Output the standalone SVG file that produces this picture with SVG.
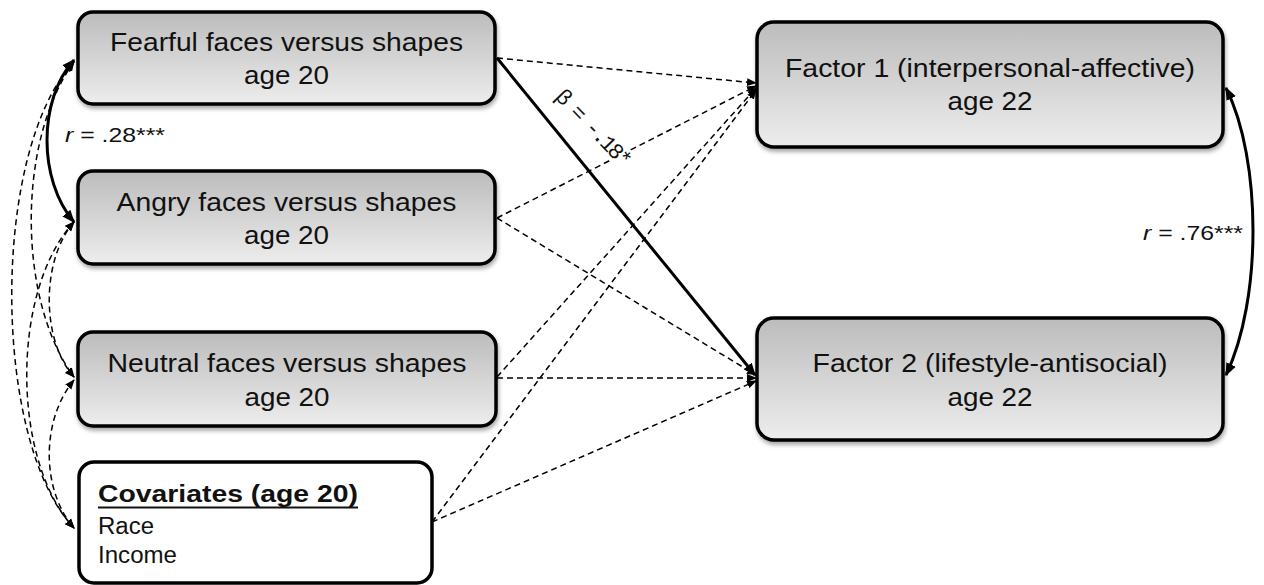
<svg xmlns="http://www.w3.org/2000/svg" width="1264" height="585" viewBox="0 0 1264 585">
<style>
.box{stroke:#000;stroke-width:3.5}
.g{fill:url(#gr)}
.t{font-family:"Liberation Sans",Arial,sans-serif;font-size:25.5px;fill:#111;text-anchor:middle}
.c{font-family:"Liberation Sans",Arial,sans-serif;font-size:23px;fill:#111}
.lab{font-family:"Liberation Sans",Arial,sans-serif;font-size:21px;fill:#111}
.beta{font-family:"Liberation Mono","Courier New",monospace;font-size:22px;fill:#111;letter-spacing:-2.5px}
.d{fill:none;stroke:#000;stroke-width:1.5;stroke-dasharray:6 4}
.s{fill:none;stroke:#000;stroke-width:3}
</style>
<defs>
<linearGradient id="gr" x1="0" y1="0" x2="0" y2="1">
<stop offset="0" stop-color="#bcbcbc"/>
<stop offset="1" stop-color="#ededed"/>
</linearGradient>
<filter id="sh" x="-5%" y="-5%" width="110%" height="120%">
<feDropShadow dx="1" dy="3" stdDeviation="2" flood-color="#000" flood-opacity="0.35"/>
</filter>
<marker id="a" viewBox="0 0 10 10" refX="9" refY="5" markerWidth="10" markerHeight="10" markerUnits="userSpaceOnUse" orient="auto-start-reverse">
<path d="M0,1 L10,5 L0,9 z" fill="#000"/>
</marker>
<marker id="A" viewBox="0 0 10 10" refX="9" refY="5" markerWidth="13" markerHeight="13" markerUnits="userSpaceOnUse" orient="auto-start-reverse">
<path d="M0,1 L10,5 L0,9 z" fill="#000"/>
</marker>
</defs>

<g id="connectors">
<!-- left covariance curves (dashed) -->
<path class="d" d="M74,62 C-9,150 -9,440 74,528" marker-start="url(#a)" marker-end="url(#a)"/>
<path class="d" d="M74,62 C17,140 17,300 74,377" marker-start="url(#a)" marker-end="url(#a)"/>
<path class="d" d="M74,222 C11,290 11,460 74,528" marker-start="url(#a)" marker-end="url(#a)"/>
<path class="d" d="M74,222 C41,260 41,340 74,377" marker-start="url(#a)" marker-end="url(#a)"/>
<path class="d" d="M74,380 C41,420 41,490 74,528" marker-start="url(#a)" marker-end="url(#a)"/>
<!-- r = .28 solid -->
<path class="s" d="M74,60 C38,100 38,180 74,222" marker-start="url(#A)" marker-end="url(#A)"/>
<!-- r = .76 solid -->
<path class="s" d="M1226,88 C1262,160 1262,300 1226,375" marker-start="url(#A)" marker-end="url(#A)"/>
<!-- dashed paths to factors -->
<path class="d" d="M497,58 L756,83" marker-end="url(#a)"/>
<path class="d" d="M497,218 L756,86" marker-end="url(#a)"/>
<path class="d" d="M497,218 L756,375" marker-end="url(#a)"/>
<path class="d" d="M497,377 L756,88" marker-end="url(#a)"/>
<path class="d" d="M497,378 L756,378" marker-end="url(#a)"/>
<path class="d" d="M432,522 L756,90" marker-end="url(#a)"/>
<path class="d" d="M432,522 L756,381" marker-end="url(#a)"/>
<!-- label background -->
<rect x="-50" y="-12" width="102" height="22" fill="#fff" transform="translate(592,128) rotate(46)"/>
<!-- significant path -->
<path class="s" d="M497,58 L755,375" marker-end="url(#A)"/>
<text class="beta" text-anchor="middle" transform="translate(592,128) rotate(46)" x="0" y="6">β = -.18*</text>
<text class="lab" x="65" y="142" textLength="100" lengthAdjust="spacingAndGlyphs"><tspan font-style="italic">r</tspan> = .28***</text>
<text class="lab" x="1143" y="240" textLength="100" lengthAdjust="spacingAndGlyphs"><tspan font-style="italic">r</tspan> = .76***</text>
</g>

<g id="fearful">
<rect class="box g" x="78" y="12" width="417" height="92" rx="15" filter="url(#sh)"/>
<text class="t" x="286.5" y="51" textLength="353" lengthAdjust="spacingAndGlyphs">Fearful faces versus shapes</text>
<text class="t" x="286.5" y="84" textLength="85" lengthAdjust="spacingAndGlyphs">age 20</text>
</g>

<g id="angry">
<rect class="box g" x="78" y="171" width="417" height="93" rx="15" filter="url(#sh)"/>
<text class="t" x="286.5" y="211" textLength="340" lengthAdjust="spacingAndGlyphs">Angry faces versus shapes</text>
<text class="t" x="286.5" y="244" textLength="85" lengthAdjust="spacingAndGlyphs">age 20</text>
</g>

<g id="neutral">
<rect class="box g" x="78" y="332" width="418" height="94" rx="15" filter="url(#sh)"/>
<text class="t" x="287" y="372" textLength="359" lengthAdjust="spacingAndGlyphs">Neutral faces versus shapes</text>
<text class="t" x="287" y="406" textLength="85" lengthAdjust="spacingAndGlyphs">age 20</text>
</g>

<g id="covariates">
<rect class="box" fill="#fff" x="79" y="462" width="353" height="121" rx="15"/>
<text class="c" x="98" y="502" font-weight="bold" textLength="260" lengthAdjust="spacingAndGlyphs">Covariates (age 20)</text>
<line x1="98" y1="507.5" x2="358" y2="507.5" stroke="#111" stroke-width="2"/>
<text class="c" x="98" y="534" textLength="56" lengthAdjust="spacingAndGlyphs">Race</text>
<text class="c" x="98" y="563" textLength="79" lengthAdjust="spacingAndGlyphs">Income</text>
</g>

<g id="factor1">
<rect class="box g" x="757" y="22" width="466" height="125" rx="17" filter="url(#sh)"/>
<text class="t" x="990" y="77" textLength="410" lengthAdjust="spacingAndGlyphs">Factor 1 (interpersonal-affective)</text>
<text class="t" x="990" y="110" textLength="85" lengthAdjust="spacingAndGlyphs">age 22</text>
</g>

<g id="factor2">
<rect class="box g" x="757" y="318" width="466" height="122" rx="17" filter="url(#sh)"/>
<text class="t" x="990" y="372" textLength="355" lengthAdjust="spacingAndGlyphs">Factor 2 (lifestyle-antisocial)</text>
<text class="t" x="990" y="406" textLength="85" lengthAdjust="spacingAndGlyphs">age 22</text>
</g>
</svg>
